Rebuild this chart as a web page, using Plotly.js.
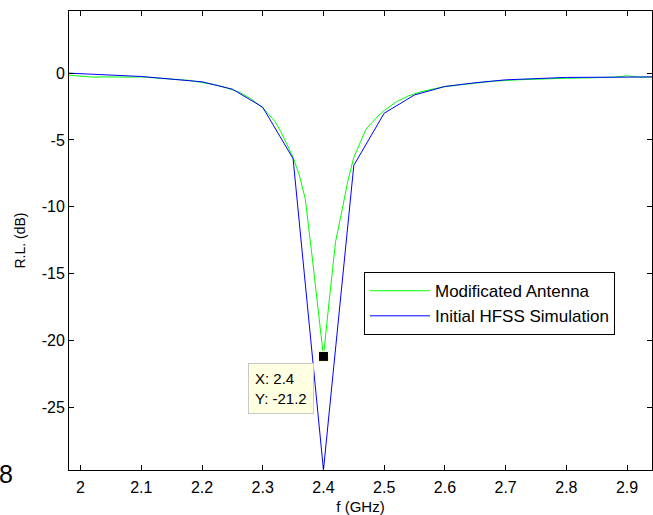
<!DOCTYPE html>
<html>
<head>
<meta charset="utf-8">
<script src="https://cdn.plot.ly/plotly-3.0.1.min.js"></script>
<style>html,body{margin:0;padding:0;background:#fff;}#chart{width:653px;height:515px;}</style>
</head>
<body>
<div id="chart"></div>
<script>
// Modificated Antenna (green)
const modFreq = [1.98,2.00,2.02,2.04,2.06,2.08,2.10,2.12,2.14,2.16,2.18,2.20,2.22,2.24,2.26,2.28,2.30,2.31,2.32,2.33,2.34,2.35,2.36,2.37,2.38,2.39,2.40,2.41,2.42,2.43,2.44,2.45,2.46,2.47,2.48,2.49,2.50,2.52,2.54,2.56,2.58,2.60,2.64,2.68,2.72,2.76,2.80,2.84,2.88,2.90,2.92,2.941];
const modRL   = [-0.15,-0.22,-0.3,-0.28,-0.3,-0.3,-0.28,-0.35,-0.4,-0.45,-0.55,-0.7,-0.85,-1.1,-1.4,-1.9,-2.6,-3.1,-3.6,-4.4,-5.3,-6.3,-7.6,-9.4,-13.2,-17.1,-21.2,-16.8,-12.6,-10.4,-8.1,-6.3,-5.3,-4.2,-3.7,-3.2,-2.8,-2.15,-1.7,-1.4,-1.2,-1.0,-0.8,-0.6,-0.5,-0.42,-0.38,-0.35,-0.3,-0.2,-0.3,-0.3];
// Initial HFSS Simulation (blue)
const hfssFreq = [1.98,2.00,2.10,2.20,2.25,2.30,2.35,2.40,2.45,2.50,2.55,2.60,2.65,2.70,2.80,2.90,2.941];
const hfssRL   = [0.0,-0.05,-0.25,-0.65,-1.2,-2.55,-6.4,-29.7,-6.9,-3.0,-1.63,-1.0,-0.72,-0.5,-0.32,-0.3,-0.28];
// Data tip
const tipX = [2.4];
const tipY = [-21.2];
const xTicks = [2,2.1,2.2,2.3,2.4,2.5,2.6,2.7,2.8,2.9];
const xTickText = ['2','2.1','2.2','2.3','2.4','2.5','2.6','2.7','2.8','2.9'];
const yTicks = [0,-5,-10,-15,-20,-25];
const yTickText = ['0','-5','-10','-15','-20','-25'];

const font = 'Arial, "Liberation Sans", sans-serif';
const traces = [
  {x: modFreq, y: modRL, mode: 'lines', name: 'Modificated Antenna', line: {color: '#00ff00', width: 1}},
  {x: hfssFreq, y: hfssRL, mode: 'lines', name: 'Initial HFSS Simulation', line: {color: '#0000ff', width: 1}},
  {x: tipX, y: tipY, mode: 'markers', showlegend: false, marker: {symbol: 'square', size: 10, color: '#000', line: {color: '#ffffe1', width: 1}}}
];
const axisCommon = {
  showgrid: false, zeroline: false, showline: true, linecolor: '#000', linewidth: 1,
  mirror: 'allticks', ticks: 'inside', ticklen: 5, tickcolor: '#000', tickwidth: 1,
  tickfont: {family: font, size: 16, color: '#000'}
};
const layout = {
  width: 653, height: 515,
  margin: {l: 68.5, r: 1, t: 10.5, b: 45},
  paper_bgcolor: '#fff', plot_bgcolor: '#fff',
  font: {family: font, color: '#000'},
  xaxis: Object.assign({}, axisCommon, {
    range: [1.981, 2.941], tickmode: 'array', tickvals: xTicks, ticktext: xTickText,
    ticklabelstandoff: 3,
    title: {text: 'f (GHz)', font: {family: font, size: 15}, standoff: 6}
  }),
  yaxis: Object.assign({}, axisCommon, {
    range: [-29.7, 4.65], tickmode: 'array', tickvals: yTicks, ticktext: yTickText,
    title: {text: 'R.L. (dB)', font: {family: font, size: 14}, standoff: 12}
  }),
  showlegend: true,
  legend: {
    x: 0.506, y: 0.431, xanchor: 'left', yanchor: 'top',
    bgcolor: '#fff', bordercolor: '#000', borderwidth: 1,
    font: {family: font, size: 17, color: '#000'},
    itemwidth: 60, tracegroupgap: 0
  },
  annotations: [
    {xref: 'paper', yref: 'paper', x: (281 - 68.5) / 583.5, y: (470 - 388) / 459.5,
     text: 'X: 2.4<br>Y: -21.2', showarrow: false, align: 'left',
     font: {family: font, size: 15, color: '#000'},
     bgcolor: '#ffffe1', bordercolor: '#c8c8c8', borderwidth: 1, borderpad: 6,
     xanchor: 'center', yanchor: 'middle'},
    {xref: 'paper', yref: 'paper', x: (5 - 68.5) / 583.5, y: (470 - 474) / 459.5,
     text: '8', showarrow: false, font: {family: font, size: 25, color: '#000'},
     xanchor: 'center', yanchor: 'middle'}
  ]
};
Plotly.newPlot('chart', traces, layout, {displayModeBar: false, staticPlot: true});
</script>
</body>
</html>
